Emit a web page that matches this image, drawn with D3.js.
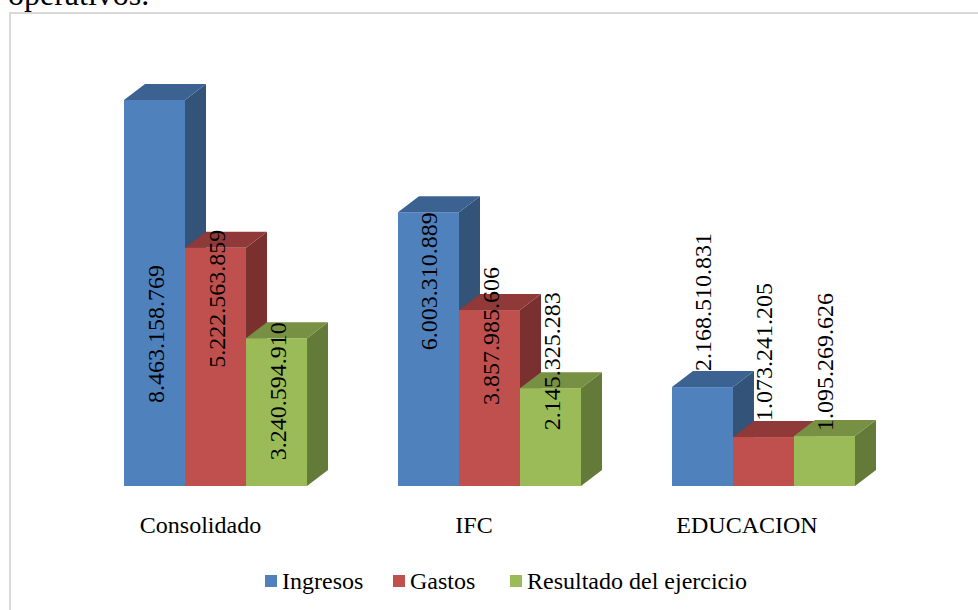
<!DOCTYPE html>
<html>
<head>
<meta charset="utf-8">
<style>
  html, body { margin: 0; padding: 0; background: #fff; overflow: hidden; }
  text { font-family: "Liberation Serif", serif; fill: #000; }
</style>
<script src="https://cdn.jsdelivr.net/npm/d3@7"></script>
</head>
<body>
<svg id="chart" width="978" height="610"></svg>
<script>
const categories = ["Consolidado", "IFC", "EDUCACION"];
const seriesNames = ["Ingresos", "Gastos", "Resultado del ejercicio"];
const ingresos = [8463158769, 6003310889, 2168510831];
const gastos = [5222563859, 3857985606, 1073241205];
const resultado = [3240594910, 2145325283, 1095269626];
const seriesValues = [ingresos, gastos, resultado];

const faceColors = ["#4f81bd", "#c0504d", "#9bbb59"];
const topColors = ["#3c6291", "#8f3a38", "#779044"];
const sideColors = ["#335379", "#7a302e", "#647a39"];

// labels were moved by hand in the original, px from the bar top to the label's upper end
const labelShift = [
    [165, -18, -16],
    [0, -43, -96],
    [-154, -154, -143]
];

const svg = d3.select("#chart");
const baseY = 486, depthX = 21, depthY = 16;

const x0 = d3.scaleBand().domain(categories).range([124, 855]).paddingInner(0.332);
const x1 = d3.scaleBand().domain(seriesNames).range([0, x0.bandwidth()]);
const y = d3.scaleLinear().domain([0, d3.max(ingresos)]).range([baseY, 100]);

svg.append("text")
    .attr("x", 8).attr("y", 5)
    .style("font-size", "32px")
    .text("operativos.");

// the frame runs off the right and bottom of the crop
svg.append("rect")
    .attr("x", 10).attr("y", 13)
    .attr("width", 980).attr("height", 610)
    .attr("fill", "#fff")
    .attr("stroke", "#d9d9d9")
    .attr("stroke-width", 2);

const bars = [];
categories.forEach(function (c, i) {
    seriesNames.forEach(function (s, j) {
        bars.push({ cat: c, name: s, value: seriesValues[j][i], s: j, c: i });
    });
});

const g = svg.append("g");
const bar = g.selectAll("g.bar")
    .data(bars)
    .enter().append("g")
    .attr("class", "bar");

// side first, then top, then front, so the next bar in the group overlaps the side
bar.append("path")
    .attr("fill", d => sideColors[d.s])
    .attr("d", function (d) {
        const xr = x0(d.cat) + x1(d.name) + x1.bandwidth(), t = y(d.value);
        return "M" + xr + "," + t + "L" + (xr + depthX) + "," + (t - depthY)
            + "L" + (xr + depthX) + "," + (baseY - depthY) + "L" + xr + "," + baseY + "Z";
    });

bar.append("path")
    .attr("fill", d => topColors[d.s])
    .attr("d", function (d) {
        const xl = x0(d.cat) + x1(d.name), xr = xl + x1.bandwidth(), t = y(d.value);
        return "M" + xl + "," + t + "L" + (xl + depthX) + "," + (t - depthY)
            + "L" + (xr + depthX) + "," + (t - depthY) + "L" + xr + "," + t + "Z";
    });

bar.append("rect")
    .attr("x", d => x0(d.cat) + x1(d.name))
    .attr("y", d => y(d.value))
    .attr("width", x1.bandwidth())
    .attr("height", d => baseY - y(d.value))
    .attr("fill", d => faceColors[d.s]);

const fmt = d3.formatLocale({ decimal: ",", thousands: ".", grouping: [3], currency: ["", ""] }).format(",d");

g.selectAll("text.value")
    .data(bars)
    .enter().append("text")
    .attr("class", "value")
    .attr("text-anchor", "end")
    .style("font-size", "24px")
    .attr("transform", function (d) {
        const cx = x0(d.cat) + x1(d.name) + x1.bandwidth() / 2 + 9;
        return "translate(" + cx + "," + (y(d.value) + labelShift[d.c][d.s]) + ") rotate(-90)";
    })
    .text(d => fmt(d.value));

// category labels
const catX = [200.5, 474, 747];
svg.selectAll("text.cat")
    .data(categories)
    .enter().append("text")
    .attr("class", "cat")
    .attr("x", (d, i) => catX[i])
    .attr("y", 533)
    .attr("text-anchor", "middle")
    .style("font-size", "24px")
    .text(d => d);

// legend
const legendX = [265, 393, 510];
const legend = svg.selectAll("g.legend")
    .data(seriesNames)
    .enter().append("g")
    .attr("class", "legend")
    .attr("transform", (d, i) => "translate(" + legendX[i] + ",575)");
legend.append("rect")
    .attr("width", 12).attr("height", 12)
    .attr("fill", (d, i) => faceColors[i]);
legend.append("text")
    .attr("x", 17).attr("y", 14)
    .style("font-size", "24px")
    .text(d => d);
</script>
</body>
</html>
